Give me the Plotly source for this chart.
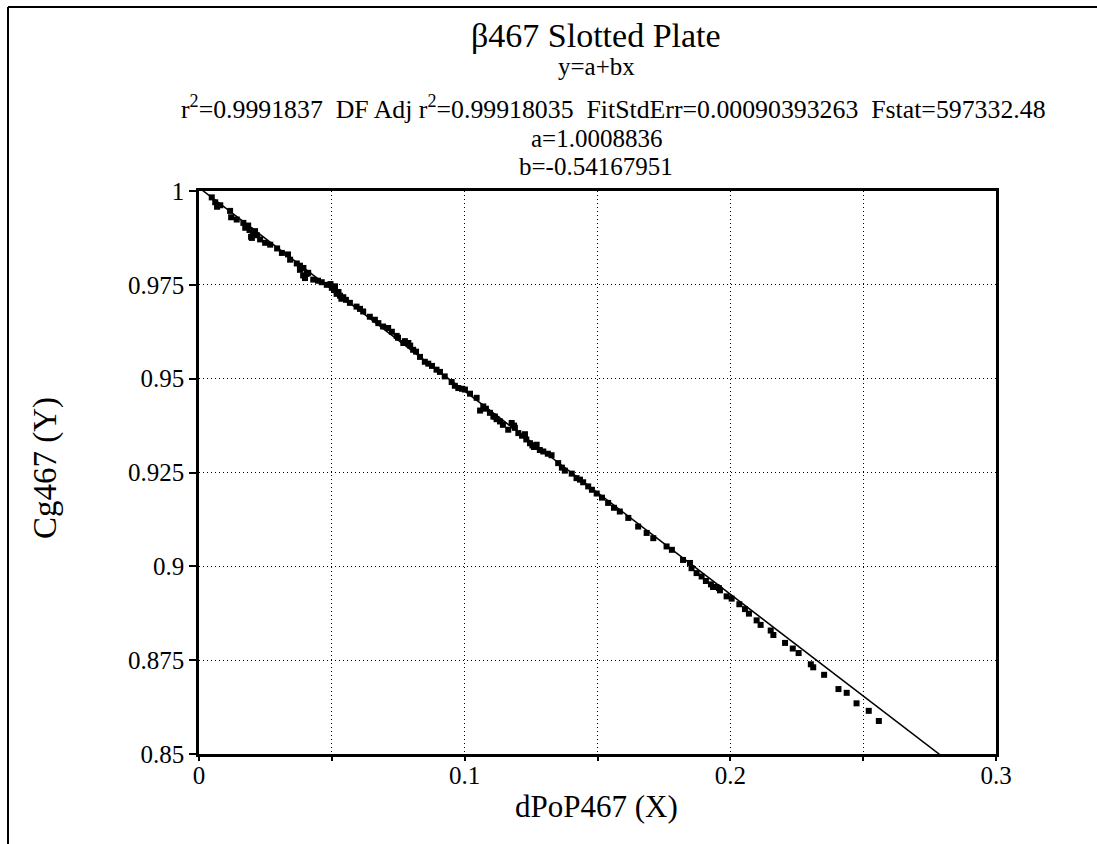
import plotly.graph_objects as go

# Fit coefficients (y = a + b x)
a_coef = 1.0008836
b_coef = -0.54167951

dpop467 = [0.0048, 0.0061, 0.0068, 0.0080, 0.0117, 0.0121, 0.0142, 0.0167, 0.0174, 0.0185,
           0.0199, 0.0211, 0.0218, 0.0230, 0.0249, 0.0268, 0.0294, 0.0312, 0.0335, 0.0343,
           0.0368, 0.0380, 0.0393, 0.0399, 0.0411, 0.0430, 0.0448, 0.0462, 0.0481, 0.0500,
           0.0518, 0.0531, 0.0543, 0.0553, 0.0568, 0.0593, 0.0606, 0.0618, 0.0643, 0.0662,
           0.0675, 0.0693, 0.0712, 0.0726, 0.0744, 0.0749, 0.0769, 0.0788, 0.0806, 0.0817,
           0.0832, 0.0850, 0.0863, 0.0877, 0.0894, 0.0907, 0.0925, 0.0951, 0.0963, 0.0976,
           0.0990, 0.1001, 0.1020, 0.1045, 0.1058, 0.1070, 0.1080, 0.1095, 0.1114, 0.1133,
           0.1144, 0.1164, 0.1177, 0.1189, 0.1202, 0.1216, 0.1227, 0.1246, 0.1261, 0.1271,
           0.1283, 0.1296, 0.1313, 0.1327, 0.1352, 0.1366, 0.1377, 0.1403, 0.1421, 0.1434,
           0.1446, 0.1465, 0.1479, 0.1497, 0.1517, 0.1540, 0.1562, 0.1584, 0.1616, 0.1653,
           0.1685, 0.1710, 0.1760, 0.1780, 0.1822, 0.1848, 0.1854, 0.1873, 0.1892, 0.1908,
           0.1927, 0.1948, 0.1961, 0.1986, 0.2005, 0.2034, 0.2055, 0.2070, 0.2099, 0.2114,
           0.2152, 0.2162, 0.2206, 0.2235, 0.2257, 0.2303, 0.2312, 0.2353, 0.2407, 0.2438,
           0.2475, 0.2521, 0.2559,
           0.0190, 0.0203, 0.0196, 0.0380, 0.0392, 0.0405, 0.0495, 0.0508, 0.0525, 0.0536,
           0.0512, 0.0775, 0.0795, 0.1108, 0.1120, 0.1186, 0.1232, 0.1255, 0.1935, 0.1957]
cg467 = [0.9983, 0.9970, 0.9958, 0.9962, 0.9947, 0.9930, 0.9924, 0.9915, 0.9902, 0.9908,
         0.9875, 0.9893, 0.9882, 0.9871, 0.9862, 0.9857, 0.9847, 0.9835, 0.9831, 0.9817,
         0.9807, 0.9801, 0.9795, 0.9768, 0.9782, 0.9764, 0.9761, 0.9757, 0.9750, 0.9742,
         0.9726, 0.9721, 0.9717, 0.9710, 0.9702, 0.9692, 0.9686, 0.9679, 0.9665, 0.9657,
         0.9648, 0.9639, 0.9635, 0.9625, 0.9614, 0.9609, 0.9595, 0.9595, 0.9577, 0.9572,
         0.9558, 0.9545, 0.9540, 0.9534, 0.9524, 0.9518, 0.9506, 0.9491, 0.9481, 0.9475,
         0.9473, 0.9471, 0.9460, 0.9449, 0.9415, 0.9426, 0.9420, 0.9409, 0.9399, 0.9386,
         0.9377, 0.9364, 0.9382, 0.9369, 0.9355, 0.9348, 0.9352, 0.9328, 0.9318, 0.9324,
         0.9310, 0.9306, 0.9300, 0.9296, 0.9275, 0.9263, 0.9255, 0.9247, 0.9235, 0.9231,
         0.9224, 0.9213, 0.9204, 0.9194, 0.9183, 0.9169, 0.9156, 0.9146, 0.9129, 0.9106,
         0.9089, 0.9075, 0.9053, 0.9044, 0.9017, 0.9009, 0.8995, 0.8982, 0.8973, 0.8961,
         0.8952, 0.8945, 0.8936, 0.8920, 0.8914, 0.8899, 0.8886, 0.8874, 0.8856, 0.8844,
         0.8829, 0.8817, 0.8796, 0.8781, 0.8769, 0.8739, 0.8731, 0.8711, 0.8673, 0.8663,
         0.8635, 0.8615, 0.8588,
         0.9896, 0.9884, 0.9878, 0.9790, 0.9775, 0.9779, 0.9752, 0.9736, 0.9731, 0.9713,
         0.9746, 0.9600, 0.9588, 0.9399, 0.9392, 0.9375, 0.9338, 0.9322, 0.8945, 0.8942]

# Fit line evaluated at the ends of the x axis
fit_x = [0.0, 0.3]
fit_y = [a_coef + b_coef * v for v in fit_x]

x_tickvals = [0, 0.05, 0.1, 0.15, 0.2, 0.25, 0.3]
x_ticktext = ["0", "", "0.1", "", "0.2", "", "0.3"]
y_tickvals = [0.85, 0.875, 0.9, 0.925, 0.95, 0.975, 1.0]
y_ticktext = ["0.85", "0.875", "0.9", "0.925", "0.95", "0.975", "1"]

title_text = "β467 Slotted Plate"
eq_text = "y=a+bx"
stats_text = ("r<sup>2</sup>=0.9991837\u00a0\u00a0DF Adj r<sup>2</sup>=0.99918035"
              "\u00a0\u00a0FitStdErr=0.00090393263\u00a0\u00a0Fstat=597332.48")
a_text = "a=1.0008836"
b_text = "b=-0.54167951"
x_title = "dPoP467 (X)"
y_title = "Cg467 (Y)"

FONT = "Liberation Serif"

fig = go.Figure()
fig.add_trace(go.Scatter(x=dpop467, y=cg467, mode="markers",
                         marker=dict(symbol="square", size=6, color="black",
                                     line=dict(width=0)),
                         showlegend=False, hoverinfo="x+y"))
fig.add_trace(go.Scatter(x=fit_x, y=fit_y, mode="lines",
                         line=dict(color="black", width=1.5),
                         showlegend=False, hoverinfo="skip"))

L, R, T, B = 199, 101, 191, 90
W, H = 1097, 844
pw, ph = W - L - R, H - T - B


def px(xp):
    return (xp - L) / pw


def py(yp):
    return (H - B - yp) / ph


axis_common = dict(showline=True, linecolor="black", linewidth=2.5, mirror=True,
                   showgrid=True, gridcolor="black", gridwidth=1, griddash="1px,3px",
                   zeroline=False, ticks="outside", tickcolor="black",
                   tickfont=dict(family=FONT, size=25, color="black"))

fig.update_xaxes(range=[0, 0.3], tickmode="array", tickvals=x_tickvals,
                 ticktext=x_ticktext, ticklen=4, tickwidth=1.5,
                 ticklabelstandoff=-7, **axis_common)
fig.update_yaxes(range=[0.85, 1.0], tickmode="array", tickvals=y_tickvals,
                 ticktext=y_ticktext, ticklen=7, tickwidth=1.5, **axis_common)

ann = [
    dict(text=title_text, x=px(596), y=py(36), size=34),
    dict(text=eq_text, x=px(596), y=py(67), size=25),
    dict(text=stats_text, x=px(613), y=py(107), size=25.8),
    dict(text=a_text, x=px(596), y=py(138), size=25),
    dict(text=b_text, x=px(596), y=py(166), size=25),
    dict(text=x_title, x=px(596), y=py(806), size=31),
]
annotations = []
for a in ann:
    annotations.append(dict(text=a["text"], x=a["x"], y=a["y"], xref="paper", yref="paper",
                            xanchor="center", yanchor="middle", showarrow=False,
                            font=dict(family=FONT, size=a["size"], color="black")))
annotations.append(dict(text=y_title, x=px(45), y=py(468), xref="paper", yref="paper",
                        xanchor="center", yanchor="middle", showarrow=False, textangle=-90,
                        font=dict(family=FONT, size=33, color="black")))

shapes = [
    dict(type="line", xref="paper", yref="paper", x0=px(8), x1=px(1097), y0=py(7), y1=py(7),
         line=dict(color="black", width=2)),
    dict(type="line", xref="paper", yref="paper", x0=px(8), x1=px(8), y0=py(7), y1=py(850),
         line=dict(color="black", width=2)),
]

fig.update_layout(width=W, height=H, margin=dict(l=L, r=R, t=T, b=B),
                  paper_bgcolor="white", plot_bgcolor="white",
                  font=dict(family=FONT, color="black"),
                  annotations=annotations, shapes=shapes, showlegend=False)

fig.write_html("out.html",
               post_script="document.documentElement.style.overflow='hidden';"
                           "document.body.style.overflow='hidden';"
                           "document.body.style.margin='0';")
